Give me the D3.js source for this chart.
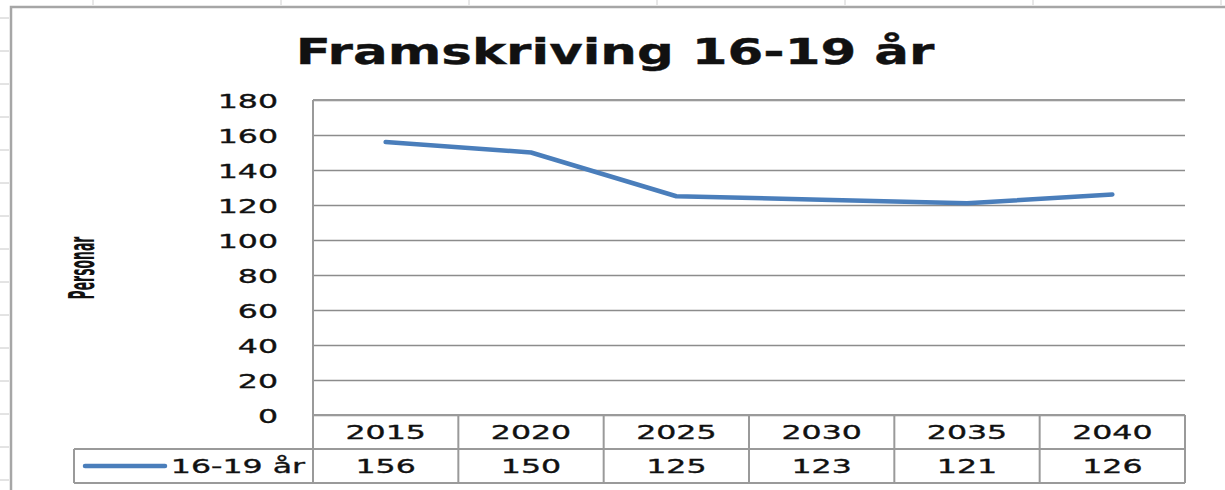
<!DOCTYPE html>
<html><head><meta charset="utf-8">
<script src="https://cdn.jsdelivr.net/npm/d3@7"></script>
<style>
html,body{margin:0;padding:0;background:#fff;}
svg{display:block;}
text{font-family:"DejaVu Sans",Verdana,sans-serif;fill:#111;}
</style></head>
<body>
<script>
const title = "Framskriving 16-19 år";
const yTitle = "Personar";
const seriesName = "16-19 år";
const years = ["2015","2020","2025","2030","2035","2040"];
const values = [156,150,125,123,121,126];
const yTicks = [0,20,40,60,80,100,120,140,160,180];

(function(){
const W = 1225, H = 490, SX = 1.58, STX = 1.43;
const svg = d3.select("body").append("svg").attr("width",W).attr("height",H);

function stretch(sel, sx, sy){
  sel.each(function(){
    const t = d3.select(this);
    const x = +t.attr("x")||0, y = +t.attr("y")||0;
    t.attr("x",0).attr("y",0).attr("transform",`translate(${x},${y}) scale(${sx},${sy||1})`)
     .attr("stroke","#111").attr("stroke-width",0.35);
  });
}

// spreadsheet grid remnants
const rowTicks = d3.range(18, H, 33);
svg.selectAll(".rt").data(rowTicks).enter().append("line")
  .attr("x1",0).attr("x2",9).attr("y1",d=>d).attr("y2",d=>d)
  .attr("stroke","#c8c8c8").attr("stroke-width",1);
const colTicks = d3.range(93, W, 188);
svg.selectAll(".ct").data(colTicks).enter().append("line")
  .attr("x1",d=>d).attr("x2",d=>d).attr("y1",0).attr("y2",5)
  .attr("stroke","#d0d0d0").attr("stroke-width",1);

// chart border
svg.append("path").attr("d",`M11,${H} L11,7 L${W},7`).attr("fill","none")
  .attr("stroke","#a6a6a6").attr("stroke-width",2.5);

const pLeft = 313, pRight = 1185, pTop = 100, zeroY = 415, rowH = 34;
const x = d3.scaleBand().domain(years).range([pLeft,pRight]);
const y = d3.scaleLinear().domain([0,180]).range([zeroY,pTop]);

// gridlines
const grid = svg.append("g").attr("transform",`translate(${pLeft},0)`)
  .call(d3.axisLeft(y).tickValues(yTicks).tickSize(-(pRight-pLeft)).tickFormat(""));
grid.select(".domain").remove();
grid.selectAll(".tick line").attr("stroke","#8c8c8c").attr("stroke-width",1.6);

// y labels
const ya = svg.append("g").attr("transform",`translate(278,0)`)
  .call(d3.axisLeft(y).tickValues(yTicks).tickSize(0).tickPadding(0));
ya.select(".domain").remove();
ya.selectAll("text").attr("font-size",20).attr("fill","#111").attr("font-family","DejaVu Sans").attr("dy","0.36em");
stretch(ya.selectAll("text"), SX);

// title
const tt = svg.append("text").attr("x",615).attr("y",64).attr("text-anchor","middle")
  .attr("font-size",36).attr("font-weight","bold").text(title);
stretch(tt, STX);

// y axis title
svg.append("text").attr("text-anchor","middle").attr("font-weight","bold")
  .attr("font-family","Liberation Sans").attr("font-size",20)
  .attr("transform",`translate(94,268) rotate(-90) scale(0.62,1.8)`).text(yTitle);

// table lines
const tl = svg.append("g").attr("stroke","#9a9a9a").attr("stroke-width",2).attr("fill","none");
const row1 = zeroY + rowH, row2 = zeroY + 2*rowH;
tl.append("line").attr("x1",pLeft).attr("x2",pLeft).attr("y1",pTop).attr("y2",row2);
tl.append("line").attr("x1",pRight).attr("x2",pRight).attr("y1",zeroY).attr("y2",row2);
tl.append("line").attr("x1",pLeft).attr("x2",pRight).attr("y1",pTop).attr("y2",pTop);
tl.append("line").attr("x1",pLeft).attr("x2",pRight).attr("y1",zeroY).attr("y2",zeroY);
tl.append("line").attr("x1",74).attr("x2",pRight).attr("y1",row1).attr("y2",row1);
tl.append("line").attr("x1",74).attr("x2",pRight).attr("y1",row2).attr("y2",row2);
tl.append("line").attr("x1",74).attr("x2",74).attr("y1",row1).attr("y2",row2);
tl.selectAll(".cd").data(years.slice(1)).enter().append("line")
  .attr("x1",d=>x(d)).attr("x2",d=>x(d)).attr("y1",zeroY).attr("y2",row2);

// table text
const ht = svg.append("g").selectAll("text").data(years).enter().append("text")
  .attr("x",d=>x(d)+x.bandwidth()/2).attr("y",zeroY+rowH/2).attr("dy","0.36em")
  .attr("text-anchor","middle").attr("font-size",20).text(d=>d);
stretch(ht, SX);
const vt = svg.append("g").selectAll("text").data(values).enter().append("text")
  .attr("x",(d,i)=>x(years[i])+x.bandwidth()/2).attr("y",row1+rowH/2).attr("dy","0.36em")
  .attr("text-anchor","middle").attr("font-size",20).text(d=>d);
stretch(vt, SX);

// legend key
svg.append("line").attr("x1",85).attr("x2",165).attr("y1",row1+rowH/2).attr("y2",row1+rowH/2)
  .attr("stroke","#4a7ebb").attr("stroke-width",4.5).attr("stroke-linecap","round");
const lt = svg.append("text").attr("x",305).attr("y",row1+rowH/2).attr("dy","0.36em")
  .attr("text-anchor","end").attr("font-size",20).text(seriesName);
stretch(lt, SX);

// line
const line = d3.line().x((d,i)=>x(years[i])+x.bandwidth()/2).y(d=>y(d));
svg.append("path").datum(values).attr("d",line).attr("fill","none")
  .attr("stroke","#4a7ebb").attr("stroke-width",4.5)
  .attr("stroke-linejoin","round").attr("stroke-linecap","round");
})();
</script>
</body></html>
